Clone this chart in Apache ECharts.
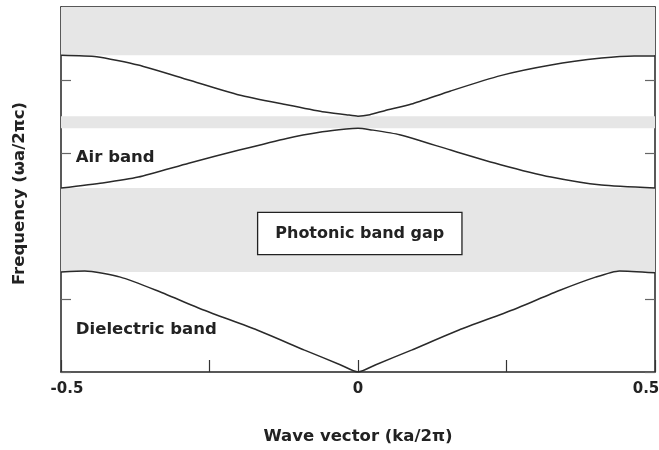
<!DOCTYPE html>
<html>
<head>
<meta charset="utf-8">
<script src="https://cdn.jsdelivr.net/npm/echarts@6/dist/echarts.min.js"></script>
<style>
  html, body { margin: 0; padding: 0; background: #fff; }
  #chart { width: 659px; height: 450px; }
</style>
</head>
<body>
<div id="chart"></div>
<script>
// Band structure of a 1-D photonic crystal: frequency vs. wave vector.
// Each band is a list of [wave vector, frequency] pairs.
const dielectricBand = [
  [-0.5, 1.37], [-0.46, 1.385], [-0.40, 1.30], [-0.34, 1.12], [-0.26, 0.85],
  [-0.17, 0.575], [-0.09, 0.30], [-0.03, 0.10], [0, 0], [0.03, 0.10], [0.09, 0.30],
  [0.17, 0.575], [0.26, 0.85], [0.34, 1.12], [0.40, 1.30], [0.44, 1.385], [0.5, 1.36]
];
const airBand = [
  [-0.5, 2.52], [-0.43, 2.59], [-0.37, 2.67], [-0.285, 2.86], [-0.20, 3.04],
  [-0.12, 3.20], [-0.06, 3.29], [-0.02, 3.33], [0, 3.34], [0.02, 3.32], [0.07, 3.25],
  [0.156, 3.04], [0.24, 2.84], [0.325, 2.67], [0.41, 2.56], [0.5, 2.52]
];
const upperBand = [
  [-0.5, 4.34], [-0.44, 4.32], [-0.37, 4.205], [-0.285, 4.0], [-0.20, 3.795],
  [-0.12, 3.66], [-0.06, 3.565], [-0.02, 3.525], [0, 3.505], [0.02, 3.525], [0.045, 3.58],
  [0.09, 3.67], [0.156, 3.85], [0.24, 4.06], [0.325, 4.205], [0.41, 4.30],
  [0.465, 4.33], [0.5, 4.33]
];

// Frequency ranges (lower, upper) with no allowed modes.
const bandGaps = [[4.34, 5], [3.34, 3.505], [1.37, 2.52]];

// Labelled ticks on the wave-vector axis.
const xTickValues = [-0.5, 0, 0.5];
const xTickLabels = ['-0.5', '0', '0.5'];

const ink = '#222';
const bold = { fontFamily: 'DejaVu Sans', fontWeight: 'bold', color: ink };

const chart = echarts.init(document.getElementById('chart'), null, { renderer: 'canvas' });

function bandSeries(name, data, extra) {
  return Object.assign({
    name: name,
    type: 'line',
    data: data,
    smooth: 0.2,
    showSymbol: false,
    symbol: 'none',
    lineStyle: { color: '#2a2a2a', width: 1.5 },
    z: 3,
    animation: false
  }, extra || {});
}

const frameLine = { show: true, onZero: false, lineStyle: { color: ink, width: 1.5 } };

chart.setOption({
  animation: false,
  grid: { left: 61, right: 4, top: 7, bottom: 78, outerBoundsMode: 'none', containLabel: false },
  xAxis: [
    {
      type: 'value',
      min: -0.5, max: 0.5, interval: 0.25,
      name: 'Wave vector (ka/2\u03c0)',
      nameLocation: 'middle',
      nameGap: 56,
      nameTextStyle: Object.assign({ fontSize: 16.5 }, bold),
      axisLine: frameLine,
      axisTick: { show: true, inside: true, length: 12, lineStyle: { color: '#333', width: 1.2 } },
      splitLine: { show: false },
      axisLabel: {
        margin: 10,
        formatter: function (v) {
          const i = xTickValues.findIndex(t => Math.abs(t - v) < 1e-9);
          if (i < 0) return '';
          return '{t' + i + '|' + xTickLabels[i] + '}';
        },
        rich: {
          t0: Object.assign({ fontSize: 15, padding: [0, 0, 0, 12] }, bold),
          t1: Object.assign({ fontSize: 15 }, bold),
          t2: Object.assign({ fontSize: 15, padding: [0, 18, 0, 0] }, bold)
        }
      }
    },
    {
      type: 'value', position: 'top',
      min: -0.5, max: 0.5,
      axisLine: frameLine,
      axisTick: { show: false }, axisLabel: { show: false }, splitLine: { show: false }
    }
  ],
  yAxis: [
    {
      type: 'value',
      min: 0, max: 5, interval: 1,
      name: 'Frequency (\u03c9a/2\u03c0c)',
      nameLocation: 'middle',
      nameGap: 33,
      nameTextStyle: Object.assign({ fontSize: 16.5, padding: [0, 8, 0, 0] }, bold),
      axisLine: frameLine,
      axisTick: { show: true, inside: true, length: 10, lineStyle: { color: '#666', width: 1.2 } },
      axisLabel: { show: false },
      splitLine: { show: false }
    },
    {
      type: 'value', position: 'right',
      min: 0, max: 5, interval: 1,
      axisLine: frameLine,
      axisTick: { show: true, inside: true, length: 10, lineStyle: { color: '#666', width: 1.2 } },
      axisLabel: { show: false },
      splitLine: { show: false }
    }
  ],
  series: [
    bandSeries('Dielectric band', dielectricBand, {
      markArea: {
        silent: true,
        itemStyle: { color: '#e6e6e6' },
        data: bandGaps.map(g => [{ yAxis: g[0] }, { yAxis: g[1] }])
      },
      markPoint: {
        silent: true,
        symbol: 'circle',
        symbolSize: 0,
        data: [
          {
            coord: [0.003, 1.897],
            label: Object.assign({
              show: true, position: 'inside', fontSize: 16, lineHeight: 19,
              backgroundColor: '#fff', borderColor: ink, borderWidth: 1.3,
              padding: [11, 17, 11, 17],
              formatter: 'Photonic band gap'
            }, bold)
          },
          {
            coord: [-0.475, 0.575],
            label: Object.assign({ show: true, position: 'right', distance: 0, fontSize: 16.5,
              formatter: 'Dielectric band' }, bold)
          },
          {
            coord: [-0.475, 2.93],
            label: Object.assign({ show: true, position: 'right', distance: 0, fontSize: 16.5,
              formatter: 'Air band' }, bold)
          }
        ]
      }
    }),
    bandSeries('Air band', airBand),
    bandSeries('Upper band', upperBand)
  ]
});
</script>
</body>
</html>
